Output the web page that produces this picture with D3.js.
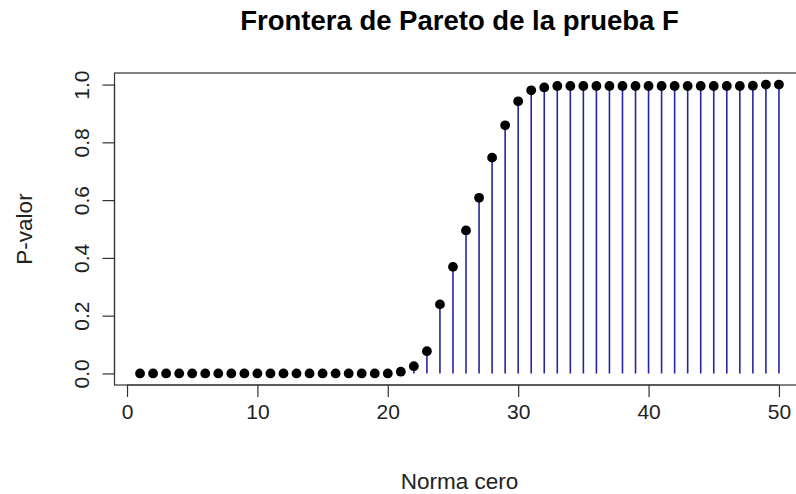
<!DOCTYPE html>
<html>
<head>
<meta charset="utf-8">
<script src="https://cdn.jsdelivr.net/npm/d3@7/dist/d3.min.js"></script>
<style>
  html, body { margin: 0; padding: 0; background: #fff; }
  svg { display: block; font-family: "Liberation Sans", Arial, sans-serif; }
</style>
</head>
<body>
<svg id="chart" width="796" height="494"></svg>
<script>
// Norma cero (number of non-zero coefficients) and the F-test p-value
const normaCero = d3.range(1, 51);
const pValor = [
  0, 0, 0, 0, 0, 0, 0, 0, 0, 0,
  0, 0, 0, 0, 0, 0, 0, 0, 0, 0,
  0.006, 0.025, 0.077, 0.239, 0.369, 0.495, 0.608, 0.747, 0.859, 0.942,
  0.980, 0.990, 0.995, 0.995, 0.995, 0.995, 0.995, 0.995, 0.995, 0.995,
  0.995, 0.995, 0.995, 0.995, 0.995, 0.995, 0.995, 0.996, 1.000, 1.000
];
const xTicks = [0, 10, 20, 30, 40, 50];
const yTicks = [0, 0.2, 0.4, 0.6, 0.8, 1.0];

const titulo = "Frontera de Pareto de la prueba F";
const etiquetaX = "Norma cero";
const etiquetaY = "P-valor";

const data = normaCero.map((n, i) => ({ n, p: pValor[i] }));

const svg = d3.select("#chart");

// plot region (R-style 4% padding around the data range)
const box = { left: 114.5, right: 804.5, top: 73, bottom: 385 };
const x = d3.scaleLinear().domain([-0.96, 51.96]).range([box.left, box.right]);
const y = d3.scaleLinear().domain([-0.04, 1.04]).range([box.bottom, box.top]);

// vertical stems
svg.append("g")
  .selectAll("line")
  .data(data)
  .join("line")
  .attr("x1", d => x(d.n)).attr("x2", d => x(d.n))
  .attr("y1", y(0)).attr("y2", d => y(d.p))
  .attr("stroke", "#2424a4")
  .attr("stroke-width", 1.6);

// points
svg.append("g")
  .selectAll("circle")
  .data(data)
  .join("circle")
  .attr("cx", d => x(d.n))
  .attr("cy", d => y(d.p))
  .attr("r", 4.9)
  .attr("fill", "#000");

// frame
svg.append("rect")
  .attr("x", box.left).attr("y", box.top)
  .attr("width", box.right - box.left).attr("height", box.bottom - box.top)
  .attr("fill", "none").attr("stroke", "#333").attr("stroke-width", 1.2);

// x axis
const xAxis = d3.axisBottom(x).tickValues(xTicks).tickSize(12).tickPadding(7)
  .tickFormat(d3.format("d"));
const gx = svg.append("g").attr("transform", `translate(0,${box.bottom})`).call(xAxis);
gx.select(".domain")
  .attr("d", `M${x(xTicks[0])},0H${x(xTicks[xTicks.length - 1])}`)
  .attr("stroke", "#333").attr("stroke-width", 1.2);
gx.selectAll(".tick line").attr("stroke", "#333").attr("stroke-width", 1.2);
gx.selectAll(".tick text").attr("font-size", 21).attr("fill", "#222")
  .attr("font-family", "Liberation Sans, Arial, sans-serif");

// y axis with rotated labels
const yAxis = d3.axisLeft(y).tickValues(yTicks).tickSize(12).tickPadding(8)
  .tickFormat(d3.format(".1f"));
const gy = svg.append("g").attr("transform", `translate(${box.left},0)`).call(yAxis);
gy.select(".domain")
  .attr("d", `M0,${y(yTicks[0])}V${y(yTicks[yTicks.length - 1])}`)
  .attr("stroke", "#333").attr("stroke-width", 1.2);
gy.selectAll(".tick line").attr("stroke", "#333").attr("stroke-width", 1.2);
gy.selectAll(".tick text")
  .attr("font-size", 21).attr("fill", "#222")
  .attr("font-family", "Liberation Sans, Arial, sans-serif")
  .attr("text-anchor", "middle")
  .attr("x", null).attr("dy", null)
  .attr("transform", "translate(-26,0) rotate(-90)");

// title and axis titles
svg.append("text")
  .attr("x", (box.left + box.right) / 2).attr("y", 30)
  .attr("text-anchor", "middle")
  .attr("font-size", 27.5).attr("font-weight", "bold").attr("fill", "#000")
  .text(titulo);

svg.append("text")
  .attr("x", (box.left + box.right) / 2).attr("y", 489)
  .attr("text-anchor", "middle")
  .attr("font-size", 22.5).attr("fill", "#222")
  .text(etiquetaX);

svg.append("text")
  .attr("transform", `translate(32,${(box.top + box.bottom) / 2}) rotate(-90)`)
  .attr("text-anchor", "middle")
  .attr("font-size", 22.5).attr("fill", "#222")
  .text(etiquetaY);
</script>
</body>
</html>
